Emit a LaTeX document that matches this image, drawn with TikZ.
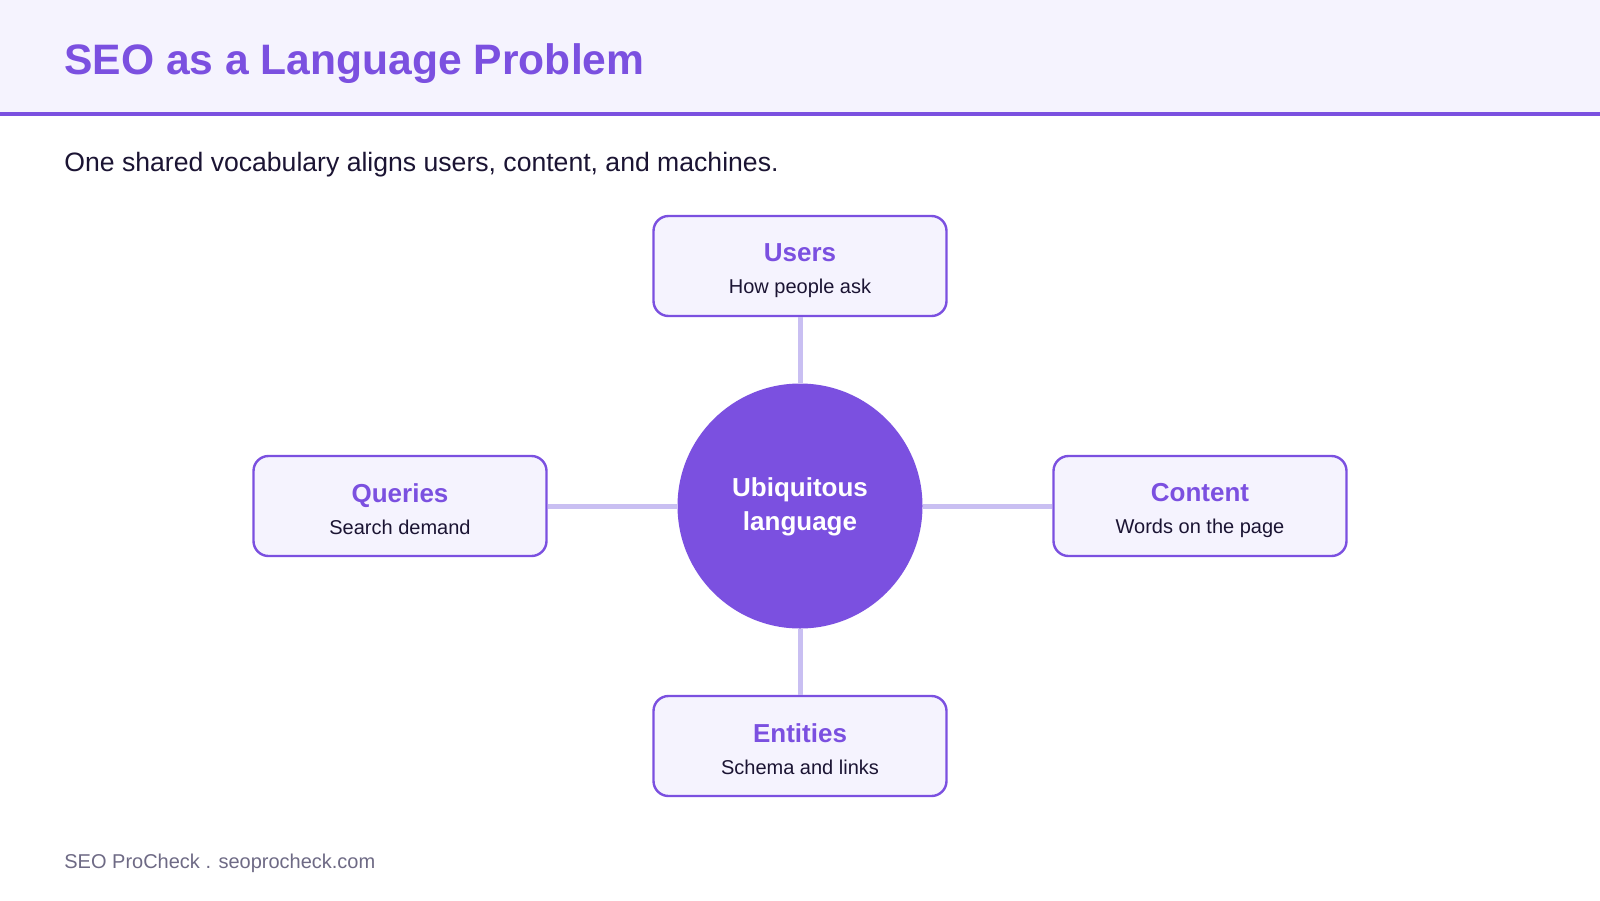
\documentclass[tikz,border=0pt]{standalone}
\usepackage{fontspec}
\setmainfont{Liberation Sans}
\definecolor{seopurple}{HTML}{7B50E0}
\definecolor{seopale}{HTML}{F5F3FE}
\definecolor{seolilac}{HTML}{C9BFF2}
\definecolor{seoink}{HTML}{1B1433}
\definecolor{seogrey}{HTML}{6E6A85}
\newcommand{\boxhead}[1]{{\fontsize{13}{16}\selectfont\bfseries\color{seopurple}\rule{0pt}{14pt}#1}}
\newcommand{\boxsub}[1]{\rule[-2pt]{0pt}{2pt}#1}
\begin{document}
\begin{tikzpicture}[x=0.5pt,y=-0.5pt]
       \tikzstyle{topicbox}=[draw=seopurple, line width=1.2pt, fill=seopale, rounded corners=7.5pt, minimum width=146.5pt, minimum height=50pt, align=center, text=seoink, font=\fontsize{10}{16}\selectfont]
       \tikzstyle{hubnode}=[circle, fill=seopurple, minimum size=122.5pt, inner sep=0pt, align=center, text=white, font=\bfseries\fontsize{13}{17}\selectfont]
       \tikzstyle{spoke}=[draw=seolilac, line width=2.5pt]
       \tikzstyle{pagetext}=[anchor=base west, inner sep=0pt]
       \useasboundingbox (0,0) rectangle (1600,900);
       \fill[white] (0,0) rectangle (1600,900);
       % header band
       \fill[seopale] (0,0) rectangle (1600,112);
       \draw[seopurple, line width=2pt] (0,114) -- (1600,114);
       \node[pagetext, text=seopurple, font=\bfseries\fontsize{21.3}{25}\selectfont] (title) at (64,74) {SEO as a Language Problem};
       \node[pagetext, text=seoink, font=\fontsize{13.3}{16}\selectfont] (subtitle) at (64,171) {One shared vocabulary aligns users, content, and machines.};
       % hub and spokes
       \node[hubnode] (hub) at (800,506) {\rule{0pt}{10pt}Ubiquitous\\language\rule[-3pt]{0pt}{3pt}};
       \node[topicbox] (users) at (800,266) {\boxhead{Users}\\\boxsub{How people ask}};
       \node[topicbox] (queries) at (400,506) {\boxhead{Queries}\\\boxsub{Search demand}};
       \node[topicbox] (content) at (1200,506) {\boxhead{Content}\\\boxsub{Words on the page}};
       \node[topicbox] (entities) at (800,746) {\boxhead{Entities}\\\boxsub{Schema and links}};
       \draw[spoke] (users.south) -- (hub.north);
       \draw[spoke] (queries.east) -- (hub.west);
       \draw[spoke] (content.west) -- (hub.east);
       \draw[spoke] (entities.north) -- (hub.south);
       \node[pagetext, text=seogrey, font=\fontsize{10}{12}\selectfont] (footer) at (64,868) {SEO ProCheck . seoprocheck.com};
\end{tikzpicture}
\end{document}
